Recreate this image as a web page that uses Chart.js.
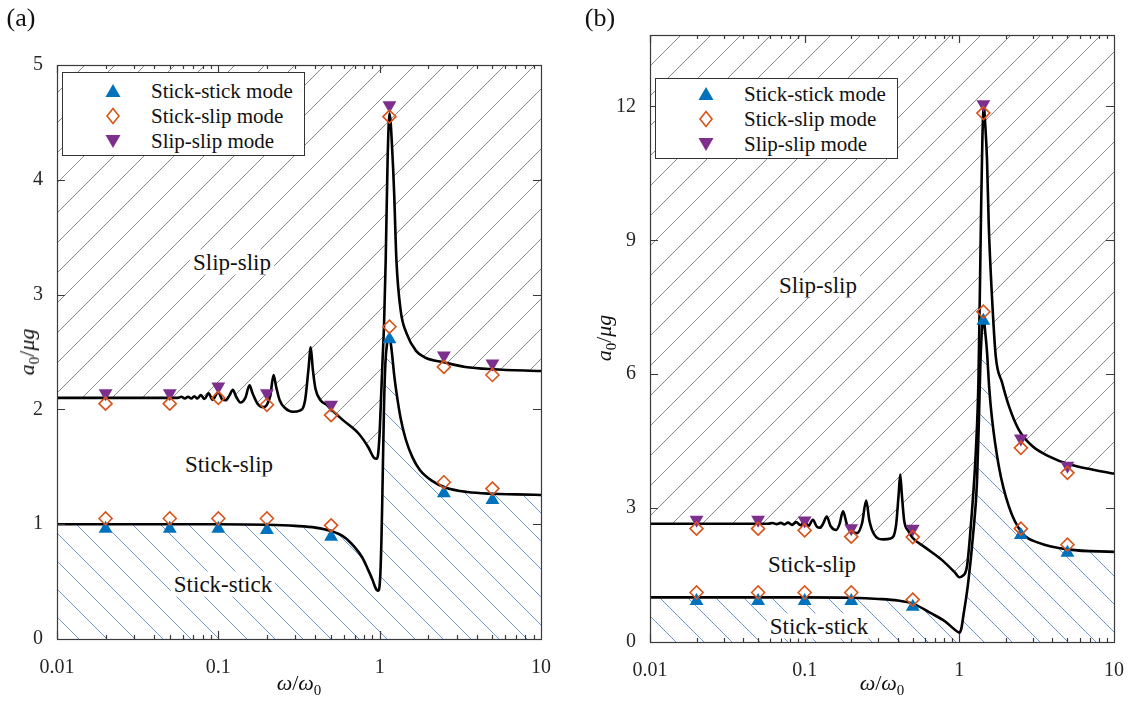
<!DOCTYPE html>
<html><head><meta charset="utf-8">
<script src="https://cdn.jsdelivr.net/npm/chart.js@4.4.1/dist/chart.umd.min.js"></script>
<style>
body{margin:0;background:#fff;}
#wrap{position:relative;width:1133px;height:702px;overflow:hidden;font-family:"Liberation Serif","Times New Roman",serif;color:#111;background:#fff;}
canvas{position:absolute;top:0;}
.t{position:absolute;white-space:nowrap;transform:translate(-50%,-50%);line-height:1;}
.region{font-size:23px;background:#fff;padding:1px 3px;}
.panel{font-size:26px;}
.axt{font-size:22px;}
.axt sub{font-size:15px;font-style:normal;vertical-align:-5px;}
.rot{transform:translate(-50%,-50%) rotate(-90deg);}
.legend{position:absolute;border:1.3px solid #333;background:#fff;font-size:21px;box-sizing:border-box;}
.legend .row{position:absolute;left:0;right:0;height:24px;}
.legend svg{position:absolute;left:41px;top:3px;}
.legend span{position:absolute;left:88px;top:2px;line-height:1;}
</style></head>
<body><div id="wrap">
<canvas id="ca" width="566" height="702" style="left:0"></canvas>
<canvas id="cb" width="567" height="702" style="left:566px"></canvas>

<div class="t panel" style="left:21px;top:18px">(a)</div>
<div class="t panel" style="left:600px;top:18px">(b)</div>

<div class="t axt rot" style="left:29px;top:352px"><i>a</i><sub>0</sub>/<i>μg</i></div>
<div class="t axt rot" style="left:606px;top:338px"><i>a</i><sub>0</sub>/<i>μg</i></div>
<div class="t axt" style="left:299px;top:685px"><i>ω</i>/<i>ω</i><sub>0</sub></div>
<div class="t axt" style="left:882px;top:685px"><i>ω</i>/<i>ω</i><sub>0</sub></div>

<div class="t region" style="left:232px;top:262px">Slip-slip</div>
<div class="t region" style="left:229px;top:464px">Stick-slip</div>
<div class="t region" style="left:223px;top:584px">Stick-stick</div>
<div class="t region" style="left:818px;top:285px">Slip-slip</div>
<div class="t region" style="left:812px;top:564px">Stick-slip</div>
<div class="t region" style="left:819px;top:626px">Stick-stick</div>

<div class="legend" style="left:62px;top:72px;width:243px;height:84px">
  <div class="row" style="top:6px"><svg width="18" height="18"><polygon points="9,2 16.5,15 1.5,15" fill="#0072BD"/></svg><span>Stick-stick mode</span></div>
  <div class="row" style="top:31px"><svg width="18" height="18"><polygon points="9,1.5 15,9 9,16.5 3,9" fill="none" stroke="#D95319" stroke-width="1.6"/></svg><span>Stick-slip mode</span></div>
  <div class="row" style="top:56px"><svg width="18" height="18"><polygon points="1.5,3 16.5,3 9,16" fill="#7E2F8E"/></svg><span>Slip-slip mode</span></div>
</div>
<div class="legend" style="left:655px;top:78px;width:243px;height:81px">
  <div class="row" style="top:3px"><svg width="18" height="18"><polygon points="9,2 16.5,15 1.5,15" fill="#0072BD"/></svg><span>Stick-stick mode</span></div>
  <div class="row" style="top:28px"><svg width="18" height="18"><polygon points="9,1.5 15,9 9,16.5 3,9" fill="none" stroke="#D95319" stroke-width="1.6"/></svg><span>Stick-slip mode</span></div>
  <div class="row" style="top:53px"><svg width="18" height="18"><polygon points="1.5,3 16.5,3 9,16" fill="#7E2F8E"/></svg><span>Slip-slip mode</span></div>
</div>
</div>
<script>
// ---------- data ----------
const xTickVals = [0.01, 0.1, 1, 10];
const xTickLabels = ['0.01', '0.1', '1', '10'];
const yTicksA = [0, 1, 2, 3, 4, 5];
const yTicksB = [0, 3, 6, 9, 12];

// marker frequencies
const omegaA = [0.02, 0.05, 0.1, 0.2, 0.5, 1.15, 2.5, 5];
const omegaB = [0.02, 0.05, 0.1, 0.2, 0.5, 1.43, 2.5, 5];

// panel (a) markers
const stickStickA    = [0.96, 0.96, 0.96, 0.95, 0.89, 2.61, 1.27, 1.21];
const stickSlipLowA  = [1.05, 1.05, 1.05, 1.05, 0.99, 2.72, 1.365, 1.31];
const stickSlipHighA = [2.05, 2.05, 2.10, 2.04, 1.95, 4.55, 2.37, 2.30];
const slipSlipA      = [2.14, 2.14, 2.20, 2.14, 2.04, 4.65, 2.47, 2.40];

// panel (b) markers
const stickStickB    = [0.92, 0.92, 0.92, 0.92, 0.79, 7.20, 2.40, 2.00];
const stickSlipLowB  = [1.11, 1.11, 1.11, 1.11, 0.95, 7.40, 2.54, 2.18];
const stickSlipHighB = [2.54, 2.54, 2.50, 2.36, 2.35, 11.85, 4.35, 3.79];
const slipSlipB      = [2.74, 2.74, 2.72, 2.55, 2.54, 12.05, 4.56, 3.95];

// panel (a) boundary curves [omega, a0/mug]
const lowerCurveA = [[0.01,1.0],[0.05,1.0],[0.1,1.0],[0.2,0.995],[0.3,0.985],[0.4,0.97],[0.5,0.94],[0.6,0.89],[0.7,0.8],[0.78,0.71],[0.85,0.6],[0.9,0.52],[0.94,0.45],[0.97,0.42],[0.99,0.43],[1.01,0.57],[1.025,0.85],[1.036,1.15],[1.05,1.6],[1.065,2.05],[1.085,2.4],[1.11,2.57],[1.14,2.62],[1.17,2.58],[1.2,2.45],[1.23,2.3],[1.27,2.15],[1.35,1.92],[1.45,1.74],[1.6,1.58],[1.78,1.47],[2.1,1.38],[2.55,1.32],[3.5,1.28],[5,1.265],[7,1.26],[10,1.255]];
const upperCurveA = [[0.01,2.1],[0.03,2.1],[0.05,2.1],[0.056,2.1],[0.059,2.11],[0.062,2.095],[0.065,2.11],[0.068,2.095],[0.071,2.115],[0.074,2.095],[0.078,2.125],[0.082,2.09],[0.087,2.14],[0.092,2.085],[0.1,2.15],[0.106,2.085],[0.111,2.08],[0.117,2.12],[0.123,2.17],[0.129,2.11],[0.137,2.06],[0.147,2.1],[0.156,2.21],[0.163,2.14],[0.175,2.05],[0.19,2.02],[0.2,2.04],[0.21,2.12],[0.22,2.3],[0.228,2.2],[0.24,2.08],[0.26,2.01],[0.29,1.98],[0.32,1.99],[0.345,2.08],[0.362,2.35],[0.374,2.54],[0.385,2.35],[0.4,2.18],[0.43,2.08],[0.47,2.04],[0.5,2.0],[0.6,1.9],[0.74,1.79],[0.85,1.67],[0.92,1.58],[0.96,1.57],[0.98,1.62],[1.0,1.8],[1.02,2.1],[1.04,2.4],[1.065,2.75],[1.09,3.3],[1.12,4.17],[1.15,4.58],[1.17,4.5],[1.19,4.32],[1.21,4.12],[1.23,3.88],[1.27,3.3],[1.35,2.86],[1.47,2.66],[1.68,2.51],[1.92,2.45],[2.5,2.41],[3.4,2.37],[5,2.35],[10,2.335]];

// panel (b) boundary curves
const lowerCurveB = [[0.01,1.0],[0.1,1.0],[0.2,0.99],[0.3,0.965],[0.4,0.93],[0.5,0.86],[0.66,0.64],[0.81,0.46],[0.94,0.27],[1.0,0.21],[1.03,0.3],[1.06,0.57],[1.14,1.32],[1.23,2.44],[1.3,3.57],[1.34,5.06],[1.37,6.3],[1.4,7.0],[1.43,7.3],[1.46,7.05],[1.51,6.5],[1.56,5.7],[1.62,5.06],[1.8,3.94],[2.09,3.04],[2.55,2.44],[3.27,2.22],[5.13,2.07],[10,2.02]];
const upperCurveB = [[0.01,2.65],[0.05,2.65],[0.058,2.65],[0.062,2.665],[0.066,2.64],[0.07,2.67],[0.074,2.635],[0.078,2.675],[0.083,2.625],[0.088,2.685],[0.094,2.615],[0.1,2.7],[0.106,2.6],[0.113,2.74],[0.12,2.58],[0.126,2.56],[0.132,2.66],[0.139,2.81],[0.147,2.6],[0.16,2.51],[0.168,2.64],[0.177,2.93],[0.188,2.62],[0.205,2.46],[0.218,2.44],[0.235,2.66],[0.25,3.17],[0.262,2.72],[0.28,2.42],[0.32,2.3],[0.36,2.32],[0.39,2.62],[0.405,3.3],[0.415,3.75],[0.425,3.3],[0.44,2.72],[0.47,2.48],[0.5,2.33],[0.6,2.12],[0.77,1.84],[0.94,1.55],[1.0,1.45],[1.05,1.48],[1.12,1.69],[1.2,2.82],[1.28,4.31],[1.33,5.9],[1.38,9.5],[1.41,11.3],[1.44,12.0],[1.47,11.6],[1.51,10.8],[1.55,9.33],[1.62,7.84],[1.72,6.4],[1.89,5.81],[2.09,5.29],[2.42,4.76],[2.96,4.39],[3.8,4.16],[5.13,3.98],[10,3.77]];

// ---------- helpers ----------
const toXY = (ws, vs) => ws.map((w, i) => ({x: w, y: vs[i]}));
const pairsXY = p => p.map(([x, y]) => ({x, y}));

function hatch(ctx, color, size, dir, lw) {
  const c = document.createElement('canvas');
  c.width = c.height = size;
  const g = c.getContext('2d');
  g.strokeStyle = color; g.lineWidth = lw;
  g.beginPath();
  if (dir > 0) {
    for (const k of [0, 1, 2]) { g.moveTo(k * size, 0); g.lineTo(k * size - size, size); }
  } else {
    for (const k of [-1, 0, 1]) { g.moveTo(0, k * size); g.lineTo(size, k * size + size); }
  }
  g.stroke();
  return ctx.createPattern(c, 'repeat');
}

const boxTicks = {
  id: 'boxTicks',
  afterDraw(chart, args, opts) {
    const {ctx, chartArea: a, scales: {x, y}} = chart;
    ctx.save();
    ctx.strokeStyle = '#3a3a3a';
    ctx.lineWidth = 1.2;
    ctx.beginPath();
    for (let e = -2; e <= 0; e++) {
      for (let m = 1; m <= 9; m++) {
        const px = Math.round(x.getPixelForValue(m * Math.pow(10, e))) + 0.5;
        const len = m === 1 ? 8 : 4;
        ctx.moveTo(px, a.bottom); ctx.lineTo(px, a.bottom - len);
        ctx.moveTo(px, a.top); ctx.lineTo(px, a.top + len);
      }
    }
    opts.yTicks.forEach(v => {
      const py = Math.round(y.getPixelForValue(v)) + 0.5;
      ctx.moveTo(a.left, py); ctx.lineTo(a.left + 8, py);
      ctx.moveTo(a.right, py); ctx.lineTo(a.right - 8, py);
    });
    ctx.stroke();
    ctx.strokeRect(Math.round(a.left) + 0.5, Math.round(a.top) + 0.5, Math.round(a.width), Math.round(a.height));
    ctx.restore();
  }
};

const BLUE = '#0072BD', ORANGE = '#D95319', PURPLE = '#7E2F8E';

function markerSets(omega, ss, slLow, slHigh, sp) {
  const common = {showLine: false, order: 0};
  return [
    {...common, data: toXY(omega, slLow), pointStyle: 'rectRot', pointRadius: 6.5, pointBorderWidth: 1.6, pointBorderColor: ORANGE, pointBackgroundColor: 'rgba(0,0,0,0)'},
    {...common, data: toXY(omega, slHigh), pointStyle: 'rectRot', pointRadius: 6.5, pointBorderWidth: 1.6, pointBorderColor: ORANGE, pointBackgroundColor: 'rgba(0,0,0,0)'},
    {...common, data: toXY(omega, ss), pointStyle: 'triangle', pointRadius: 8, pointBorderWidth: 0, pointBackgroundColor: BLUE, pointBorderColor: BLUE},
    {...common, data: toXY(omega, sp), pointStyle: 'triangle', pointRotation: 180, pointRadius: 8, pointBorderWidth: 0, pointBackgroundColor: PURPLE, pointBorderColor: PURPLE}
  ];
}

function build(id, o) {
  const canvas = document.getElementById(id);
  const ctx = canvas.getContext('2d');
  const gray = hatch(ctx, '#8c8c8c', o.graySize, 1, 1);
  const blue = hatch(ctx, '#6b9bd6', o.blueSize, -1, 1);
  const tickFont = {family: '"Liberation Serif", "Times New Roman", serif', size: 20};
  return new Chart(canvas, {
    type: 'line',
    data: {datasets: [
      ...o.markers,
      {data: pairsXY(o.upper), borderColor: '#000', borderWidth: 2.6, pointRadius: 0, fill: 'end', backgroundColor: gray, cubicInterpolationMode: 'monotone', order: 5},
      {data: pairsXY(o.lower), borderColor: '#000', borderWidth: 2.6, pointRadius: 0, fill: 'start', backgroundColor: blue, cubicInterpolationMode: 'monotone', order: 6}
    ]},
    options: {
      responsive: false, animation: false, devicePixelRatio: 1, events: [],
      layout: {padding: o.padding},
      plugins: {legend: {display: false}, tooltip: {enabled: false}, boxTicks: {yTicks: o.yTicks}},
      scales: {
        x: {
          type: 'logarithmic', min: 0.01, max: 10,
          grid: {display: false}, border: {display: false},
          afterBuildTicks: ax => { ax.ticks = xTickVals.map(v => ({value: v, major: true})); },
          afterFit: ax => { ax.height = o.xAxisH; },
          ticks: {autoSkip: false, maxRotation: 0, padding: 9, color: '#262626', font: tickFont,
                  callback: (v, i) => xTickLabels[i]}
        },
        y: {
          min: 0, max: o.yMax,
          grid: {display: false}, border: {display: false},
          afterBuildTicks: ax => { ax.ticks = o.yTicks.map(v => ({value: v})); },
          afterFit: ax => { ax.width = o.yAxisW; },
          ticks: {autoSkip: false, padding: 6, color: '#262626', font: tickFont,
                  callback: v => String(v)}
        }
      }
    },
    plugins: [boxTicks]
  });
}

build('ca', {
  markers: markerSets(omegaA, stickStickA, stickSlipLowA, stickSlipHighA, slipSlipA),
  upper: upperCurveA, lower: lowerCurveA,
  yMax: 5, yTicks: yTicksA,
  padding: {left: 0, top: 65, right: 25, bottom: 0},
  yAxisW: 57, xAxisH: 63, graySize: 30, blueSize: 28
});
build('cb', {
  markers: markerSets(omegaB, stickStickB, stickSlipLowB, stickSlipHighB, slipSlipB),
  upper: upperCurveB, lower: lowerCurveB,
  yMax: 13.6, yTicks: yTicksB,
  padding: {left: 0, top: 35, right: 18, bottom: 0},
  yAxisW: 84, xAxisH: 60, graySize: 30, blueSize: 28
});
</script>
</body></html>
